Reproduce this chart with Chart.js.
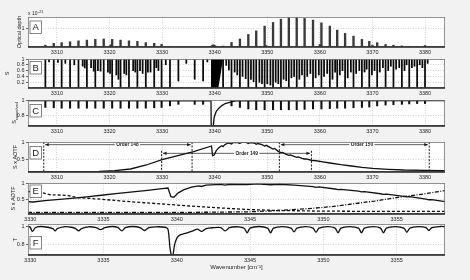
<!DOCTYPE html>
<html>
<head>
<meta charset="utf-8">
<script src="https://cdn.jsdelivr.net/npm/chart.js@4.4.0/dist/chart.umd.min.js"></script>
<style>
  html, body { margin: 0; padding: 0; background: #f2f2f2; }
  #wrap { position: relative; width: 470px; height: 280px; overflow: hidden; }
  #wrap canvas { position: absolute; left: 0; }
</style>
</head>
<body>
<div id="wrap">
  <canvas id="pA"></canvas>
  <canvas id="pB"></canvas>
  <canvas id="pC"></canvas>
  <canvas id="pD"></canvas>
  <canvas id="pE"></canvas>
  <canvas id="pF"></canvas>
</div>
<script>
// ---- data ----
const wideTicks = [3310, 3320, 3330, 3340, 3350, 3360, 3370, 3380];
const zoomTicks = [3330, 3335, 3340, 3345, 3350, 3355];

// A: optical depth per line [wavenumber, depth x1e-21]
const opticalDepthLines = [
  [3307.8, 0.1], [3309.0, 0.04], [3309.4, 0.2], [3310.9, 0.24], [3312.5, 0.29], [3314.1, 0.34],
  [3315.7, 0.38], [3317.3, 0.42], [3318.9, 0.44], [3320.2, 0.12], [3320.5, 0.42], [3322.1, 0.38],
  [3323.7, 0.34], [3325.3, 0.31], [3326.9, 0.24], [3328.5, 0.2], [3329.9, 0.15], [3331.5, 0.03],
  [3339.5, 0.08], [3339.7, 0.12], [3339.9, 0.1], [3340.1, 0.06], [3341.6, 0.05], [3343.2, 0.25],
  [3344.8, 0.44], [3346.4, 0.69], [3347.9, 0.89], [3349.5, 1.15], [3349.8, 0.08], [3351.1, 1.35],
  [3352.6, 1.53], [3354.1, 1.62], [3355.6, 1.64], [3357.1, 1.57], [3358.7, 1.48], [3360.0, 0.14],
  [3360.3, 1.33], [3361.9, 1.15], [3363.3, 0.93], [3364.8, 0.75], [3366.4, 0.6], [3368.0, 0.42],
  [3369.4, 0.31], [3370.0, 0.1], [3370.9, 0.24], [3372.5, 0.14], [3374.0, 0.1], [3375.6, 0.06],
  [3377.0, 0.03], [3378.5, 0.02], [3380.0, 0.08]
];

// B: solar lines [wavenumber, lowest value]
const solarLines = [
  [3307.8, 0], [3308.5, 0.9], [3309.4, 0], [3310.2, 0.88], [3310.9, 0], [3311.6, 0.85], [3312.5, 0],
  [3313.3, 0.8], [3314.1, 0], [3314.9, 0.75], [3315.3, 0.69], [3315.7, 0], [3316.5, 0.7], [3317.0, 0.58],
  [3317.3, 0], [3317.8, 0.6], [3318.3, 0.58], [3318.9, 0], [3319.7, 0.55], [3320.1, 0.5], [3320.5, 0],
  [3321.3, 0.45], [3321.7, 0.3], [3322.1, 0], [3322.8, 0.5], [3323.2, 0.45], [3323.7, 0], [3324.5, 0.6],
  [3324.9, 0.55], [3325.3, 0], [3325.8, 0.6], [3326.3, 0.5], [3326.9, 0], [3327.3, 0.55], [3327.8, 0.55],
  [3328.5, 0], [3328.9, 0.7], [3329.3, 0.6], [3329.9, 0], [3330.7, 0.8], [3331.5, 0], [3333.1, 0.24],
  [3334.6, 0.85], [3336.2, 0.3], [3337.8, 0.24], [3338.6, 0.9], [3341.6, 0], [3342.2, 0.78], [3342.7, 0.62],
  [3343.2, 0], [3343.8, 0.55], [3344.3, 0.45], [3344.8, 0], [3345.3, 0.4], [3345.9, 0.32], [3346.4, 0],
  [3346.9, 0.3], [3347.4, 0.22], [3347.9, 0], [3348.5, 0.2], [3349.0, 0.15], [3349.5, 0], [3350.0, 0.15],
  [3350.6, 0.1], [3351.1, 0], [3351.6, 0.2], [3352.1, 0.15], [3352.6, 0], [3353.1, 0.3], [3353.6, 0.25],
  [3354.1, 0], [3354.6, 0.35], [3355.1, 0.4], [3355.6, 0], [3356.1, 0.3], [3356.6, 0.45], [3357.1, 0],
  [3357.6, 0.4], [3358.2, 0.5], [3358.7, 0], [3359.2, 0.35], [3359.8, 0.45], [3360.3, 0], [3360.8, 0.4],
  [3361.4, 0.5], [3361.9, 0], [3362.4, 0.3], [3362.9, 0.55], [3363.3, 0], [3363.8, 0.45], [3364.3, 0.6],
  [3364.8, 0], [3365.3, 0.35], [3365.9, 0.55], [3366.4, 0], [3366.9, 0.5], [3367.5, 0.6], [3368.0, 0],
  [3368.5, 0.55], [3368.9, 0.65], [3369.4, 0], [3369.9, 0.45], [3370.4, 0.6], [3370.9, 0], [3371.4, 0.55],
  [3372.0, 0.7], [3372.5, 0], [3373.0, 0.6], [3373.5, 0.75], [3374.0, 0], [3374.5, 0.65], [3375.1, 0.7],
  [3375.6, 0], [3376.1, 0.6], [3376.5, 0.8], [3377.0, 0], [3377.5, 0.7], [3378.0, 0.75], [3378.5, 0],
  [3379.0, 0.8], [3379.5, 0.7], [3380.0, 0], [3380.5, 0.85]
];
// black band near the Q branch: top edge and lower edge
const bandTop = [[3339.3, 1], [3341.6, 1]];
const bandBottom = [[3339.3, 0], [3340.7, 0], [3341.6, 1]];

// C: convolved spectrum, smooth part and narrow dips
const convolvedBase = [
  [3304.5, 0.998], [3339.3, 0.995], [3339.35, 0.6], [3339.6, 0.6], [3339.9, 0.78], [3340.3, 0.86],
  [3340.8, 0.9], [3341.3, 0.93], [3342.0, 0.96], [3343.0, 0.98], [3344.0, 0.995], [3383.8, 0.998]
];
const convolvedDips = [
  [3307.8, 0.91], [3309.4, 0.905], [3310.9, 0.9], [3312.5, 0.9], [3314.1, 0.9], [3315.7, 0.9],
  [3317.3, 0.9], [3318.9, 0.9], [3320.5, 0.9], [3322.1, 0.9], [3323.7, 0.9], [3325.3, 0.9],
  [3326.9, 0.9], [3328.5, 0.905], [3329.9, 0.91], [3331.5, 0.93], [3333.1, 0.95], [3336.2, 0.95],
  [3337.8, 0.95], [3343.2, 0.93], [3344.8, 0.91], [3346.4, 0.89], [3347.9, 0.88], [3349.5, 0.88],
  [3351.1, 0.88], [3352.6, 0.88], [3354.1, 0.88], [3355.6, 0.88], [3357.1, 0.885], [3358.7, 0.89],
  [3360.3, 0.89], [3361.9, 0.895], [3363.3, 0.9], [3364.8, 0.9], [3366.4, 0.905], [3368.0, 0.91],
  [3369.4, 0.915], [3370.9, 0.93], [3372.5, 0.94], [3374.0, 0.945], [3375.6, 0.95], [3377.0, 0.955],
  [3378.5, 0.96], [3380.0, 0.96]
];

// D: S x AOTF over the wide range
const filteredWide = [
  [3304.5, 0.12], [3312, 0.12], [3318, 0.125], [3321, 0.15], [3324, 0.2], [3327, 0.32], [3330, 0.48],
  [3333, 0.6], [3336, 0.72], [3339.4, 0.89], [3339.6, 0.6], [3339.9, 0.62], [3340.3, 0.75], [3340.8, 0.84],
  [3341.3, 0.9], [3341.6, 0.87], [3341.9, 0.93], [3342.6, 0.98], [3343.2, 0.95], [3343.5, 0.995],
  [3344.3, 1.0], [3344.8, 0.965], [3345.1, 1.0], [3346.0, 1.0], [3346.4, 0.965], [3346.7, 0.995],
  [3347.5, 0.98], [3347.9, 0.94], [3348.2, 0.965], [3349.0, 0.93], [3349.5, 0.89], [3349.8, 0.91],
  [3350.6, 0.84], [3351.1, 0.8], [3351.4, 0.815], [3352.1, 0.73], [3352.6, 0.69], [3352.9, 0.7],
  [3353.6, 0.64], [3354.1, 0.61], [3354.4, 0.62], [3355.1, 0.58], [3355.6, 0.55], [3355.9, 0.56],
  [3356.6, 0.52], [3357.1, 0.5], [3357.4, 0.505], [3358.2, 0.47], [3358.7, 0.45], [3359.0, 0.455],
  [3360.3, 0.42], [3361.9, 0.38], [3364, 0.33], [3366, 0.29], [3368, 0.25], [3370, 0.22], [3373, 0.19],
  [3376, 0.17], [3380, 0.16], [3383.8, 0.15]
];
const orderNames = ['Order 148', 'Order 149', 'Order 150'];
const orderLo = [3307.5, 3329.9, 3352.3];
const orderHi = [3335.7, 3358.4, 3380.8];
const orderLevel = [0.93, 0.67, 0.93];
const orderLabelAt = [3323.4, 3346.1, 3368.0];

// E: three orders over the zoomed range
const order149 = [
  [3329.85, 0.44], [3330.2, 0.43], [3331, 0.47], [3332, 0.51], [3333, 0.55], [3334, 0.6], [3335, 0.65],
  [3336, 0.7], [3337, 0.75], [3338, 0.8], [3339, 0.85], [3339.4, 0.87], [3339.6, 0.6], [3339.8, 0.58],
  [3340.1, 0.72], [3340.5, 0.82], [3341, 0.9], [3341.5, 0.94], [3341.7, 0.92], [3342, 0.96], [3343, 0.985],
  [3343.3, 0.965], [3343.6, 0.99], [3344.8, 0.98], [3345.5, 1.0], [3346.4, 0.975], [3347, 0.99],
  [3348, 0.965], [3349.3, 0.915], [3349.5, 0.89], [3349.7, 0.905], [3350.8, 0.84], [3351.0, 0.82],
  [3351.2, 0.83], [3352.4, 0.77], [3352.6, 0.75], [3352.8, 0.76], [3353.9, 0.69], [3354.1, 0.67],
  [3354.3, 0.68], [3355.5, 0.61], [3355.7, 0.59], [3355.9, 0.6], [3357.0, 0.52], [3357.2, 0.5],
  [3357.4, 0.505], [3358.3, 0.44]
];
const order148 = [
  [3329.85, 0.76], [3330.8, 0.73], [3331.3, 0.66], [3332.5, 0.64], [3333.2, 0.57], [3334.8, 0.52],
  [3336.5, 0.45], [3338.9, 0.37], [3341, 0.3], [3343, 0.24], [3345, 0.19], [3347, 0.16], [3350, 0.14],
  [3355, 0.13], [3358.3, 0.13]
];
const order150 = [
  [3329.85, 0.1], [3336, 0.1], [3342, 0.105], [3345, 0.12], [3347, 0.16], [3349, 0.22], [3350.5, 0.28],
  [3352, 0.37], [3353.5, 0.46], [3355, 0.57], [3356.5, 0.66], [3358.3, 0.79]
];

// F: transmittance
const transmittance = [
  [3329.85, 0.998], [3330.0, 0.99], [3330.15, 0.945], [3330.35, 0.985], [3330.7, 0.998], [3331.2, 0.99],
  [3331.55, 0.975], [3331.7, 0.95], [3331.85, 0.975], [3332.3, 0.995], [3332.8, 0.99], [3333.1, 0.975],
  [3333.3, 0.95], [3333.5, 0.975], [3334.0, 0.995], [3334.5, 0.985], [3334.8, 0.965], [3335.1, 0.985],
  [3335.6, 0.998], [3336.0, 0.985], [3336.25, 0.95], [3336.5, 0.985], [3337.0, 0.998], [3337.5, 0.985],
  [3337.8, 0.955], [3338.1, 0.985], [3338.6, 0.995], [3339.2, 0.99], [3339.4, 0.97], [3339.55, 0.75],
  [3339.7, 0.66], [3339.85, 0.8], [3340.0, 0.87], [3340.2, 0.905], [3340.5, 0.92], [3340.8, 0.935],
  [3341.1, 0.95], [3341.4, 0.97], [3341.7, 0.945], [3342.0, 0.975], [3342.5, 0.985], [3343.0, 0.985],
  [3343.3, 0.95], [3343.6, 0.985], [3344.2, 0.995], [3344.6, 0.98], [3344.8, 0.93], [3345.0, 0.98],
  [3345.6, 0.998], [3346.2, 0.98], [3346.4, 0.93], [3346.6, 0.98], [3347.2, 0.997], [3347.8, 0.98],
  [3348.0, 0.94], [3348.2, 0.98], [3348.8, 0.997], [3349.3, 0.98], [3349.5, 0.935], [3349.7, 0.98],
  [3350.3, 0.997], [3350.8, 0.98], [3351.0, 0.93], [3351.2, 0.98], [3351.8, 0.997], [3352.4, 0.98],
  [3352.6, 0.93], [3352.8, 0.98], [3353.4, 0.997], [3353.9, 0.98], [3354.1, 0.93], [3354.3, 0.98],
  [3354.9, 0.997], [3355.5, 0.98], [3355.7, 0.935], [3355.9, 0.98], [3356.5, 0.997], [3357.0, 0.985],
  [3357.2, 0.955], [3357.4, 0.985], [3358.0, 0.998], [3358.3, 0.997]
];

// ---- drawing ----
const FONT = "'Liberation Sans', Arial, sans-serif";
Chart.defaults.font.family = FONT;
Chart.defaults.font.size = 5.5;
Chart.defaults.color = '#262626';

const pts = arr => arr.map(([x, y]) => ({ x, y }));

// white plot area, box, panel letter, y title
const decor = {
  id: 'decor',
  beforeDraw(chart) {
    const a = chart.chartArea, ctx = chart.ctx;
    ctx.save();
    ctx.fillStyle = '#fff';
    ctx.fillRect(a.left, a.top, a.right - a.left, a.bottom - a.top);
    ctx.restore();
  },
  afterDraw(chart, args, o) {
    const a = chart.chartArea, ctx = chart.ctx;
    ctx.save();
    ctx.strokeStyle = '#777';
    ctx.lineWidth = 0.8;
    ctx.strokeRect(a.left + 0.4, a.top + 0.4, a.right - a.left - 0.8, a.bottom - a.top - 0.8);
    ctx.strokeStyle = '#222';
    ctx.lineWidth = 1.6;
    ctx.beginPath();
    ctx.moveTo(a.left, a.bottom);
    ctx.lineTo(a.right, a.bottom);
    ctx.stroke();

    // panel letter box
    const bx = a.left + 2, by = a.top + o.letterTop;
    ctx.fillStyle = '#fff';
    ctx.fillRect(bx, by, 11.5, 12.5);
    ctx.strokeStyle = '#666';
    ctx.lineWidth = 0.8;
    ctx.strokeRect(bx, by, 11.5, 12.5);
    ctx.fillStyle = '#222';
    ctx.font = '9.5px ' + FONT;
    ctx.textAlign = 'center';
    ctx.textBaseline = 'middle';
    ctx.fillText(o.letter, bx + 5.75, by + 6.8);

    // y title, rotated
    ctx.save();
    ctx.translate(o.titleX, (a.top + a.bottom) / 2);
    ctx.rotate(-Math.PI / 2);
    ctx.font = '5.5px ' + FONT;
    if (o.titleSub) {
      const w1 = ctx.measureText(o.title).width;
      ctx.font = '4px ' + FONT;
      const w2 = ctx.measureText(o.titleSub).width;
      ctx.textAlign = 'left';
      ctx.font = '5.5px ' + FONT;
      ctx.fillText(o.title, -(w1 + w2) / 2, 0);
      ctx.font = '4px ' + FONT;
      ctx.fillText(o.titleSub, -(w1 + w2) / 2 + w1, 2.5);
    } else {
      ctx.textAlign = 'center';
      ctx.fillText(o.title, 0, 0);
    }
    ctx.restore();

    // exponent note above panel A
    if (o.exponent) {
      ctx.textAlign = 'left';
      ctx.textBaseline = 'alphabetic';
      ctx.font = '5px ' + FONT;
      ctx.fillText('x 10', a.left, a.top - 2);
      const w = ctx.measureText('x 10').width;
      ctx.font = '3.8px ' + FONT;
      ctx.fillText(o.exponent, a.left + w + 0.5, a.top - 4.5);
    }
    ctx.restore();
  }
};

// order arrows for panel D
const orderMarks = {
  id: 'orderMarks',
  afterDatasetsDraw(chart) {
    const xs = chart.scales.x, ys = chart.scales.y, ctx = chart.ctx, a = chart.chartArea;
    ctx.save();
    ctx.strokeStyle = '#1a1a1a';
    ctx.fillStyle = '#1a1a1a';
    orderNames.forEach((name, i) => {
      const x1 = xs.getPixelForValue(orderLo[i]);
      const x2 = xs.getPixelForValue(orderHi[i]);
      const yy = ys.getPixelForValue(orderLevel[i]);
      ctx.setLineDash([2, 1.4]);
      ctx.lineWidth = 1;
      [x1, x2].forEach(px => {
        ctx.beginPath();
        ctx.moveTo(px, yy - 2.5);
        ctx.lineTo(px, a.bottom);
        ctx.stroke();
      });
      ctx.setLineDash([]);
      ctx.lineWidth = 0.7;
      ctx.beginPath();
      ctx.moveTo(x1 + 1.5, yy);
      ctx.lineTo(x2 - 1.5, yy);
      ctx.stroke();
      // arrow heads pointing outward
      ctx.beginPath();
      ctx.moveTo(x1 + 1.2, yy);
      ctx.lineTo(x1 + 5, yy - 1.6);
      ctx.lineTo(x1 + 5, yy + 1.6);
      ctx.closePath();
      ctx.fill();
      ctx.beginPath();
      ctx.moveTo(x2 - 1.2, yy);
      ctx.lineTo(x2 - 5, yy - 1.6);
      ctx.lineTo(x2 - 5, yy + 1.6);
      ctx.closePath();
      ctx.fill();
      // label
      ctx.font = 'bold 4.8px ' + FONT;
      const tx = xs.getPixelForValue(orderLabelAt[i]);
      const w = ctx.measureText(name).width;
      ctx.fillStyle = '#fff';
      ctx.fillRect(tx - w / 2 - 1.5, yy - 2.6, w + 3, 5.2);
      ctx.fillStyle = '#1a1a1a';
      ctx.textAlign = 'center';
      ctx.textBaseline = 'middle';
      ctx.fillText(name, tx, yy + 0.2);
    });
    ctx.restore();
  }
};

function makePanel(p) {
  const cv = document.getElementById(p.id);
  const padTop = p.padTop || 6;
  cv.width = 470;
  cv.height = padTop + p.plotH + p.axisH;
  cv.style.top = (p.plotTop - padTop) + 'px';
  const gridColor = '#c2c2c2';
  return new Chart(cv, {
    type: p.type,
    data: { datasets: p.datasets },
    options: {
      responsive: false,
      animation: false,
      events: [],
      layout: { padding: { top: padTop, right: 25, bottom: 0, left: 0 } },
      plugins: { legend: { display: false }, tooltip: { enabled: false }, decor: p.decor },
      scales: {
        x: {
          type: 'linear',
          min: p.xRange[0],
          max: p.xRange[1],
          offset: false,
          afterBuildTicks: s => { s.ticks = p.xTicks.map(v => ({ value: v })); },
          afterFit: s => { s.height = p.axisH; },
          grid: { offset: false, color: gridColor, lineWidth: 0.7, drawTicks: false },
          border: { display: false, dash: [1, 1.5] },
          ticks: { padding: 2.5, maxRotation: 0, autoSkip: false, callback: v => String(v) },
          title: p.xTitle
            ? { display: true, text: p.xTitle, font: { size: 6 }, color: '#222', padding: { top: 0, bottom: 6.5 } }
            : { display: false }
        },
        y: {
          type: 'linear',
          min: p.yRange[0],
          max: p.yRange[1],
          afterBuildTicks: s => { s.ticks = p.yTicks.map(v => ({ value: v })); },
          afterFit: s => { s.width = 28; },
          grid: { color: gridColor, lineWidth: 0.7, drawTicks: true, tickLength: 2, tickColor: '#444', tickWidth: 0.8 },
          border: { display: false, dash: [1, 1.5] },
          ticks: { padding: 1.5, autoSkip: false, callback: v => String(v) }
        }
      }
    },
    plugins: p.plugins || [decor]
  });
}

const wideRange = [3304.5, 3383.8];
const zoomRange = [3329.85, 3358.3];
const lineStyle = { borderColor: '#111', borderWidth: 1.3, pointRadius: 0, fill: false, tension: 0 };

makePanel({
  id: 'pA', type: 'bar', plotTop: 17, plotH: 30, axisH: 10, padTop: 12,
  xRange: wideRange, xTicks: wideTicks, yRange: [0, 1.65], yTicks: [1],
  decor: { letter: 'A', letterTop: 4, title: 'Optical depth', titleX: 19, exponent: '-21' },
  datasets: [{ data: pts(opticalDepthLines), backgroundColor: '#3a3a3a', barThickness: 1.7 }]
});

makePanel({
  id: 'pB', type: 'bar', plotTop: 59, plotH: 29, axisH: 10,
  xRange: wideRange, xTicks: wideTicks, yRange: [0, 1], yTicks: [0.2, 0.4, 0.6, 0.8, 1],
  decor: { letter: 'B', letterTop: 2.5, title: 'S', titleX: 7 },
  datasets: [
    { data: solarLines.map(([x, lo]) => ({ x, y: [lo, 1] })), backgroundColor: '#0a0a0a', barThickness: 1.1 },
    { type: 'line', data: pts(bandTop), borderWidth: 0, pointRadius: 0, backgroundColor: '#000', fill: '+1' },
    { type: 'line', data: pts(bandBottom), borderWidth: 0, pointRadius: 0, fill: false }
  ]
});

makePanel({
  id: 'pC', type: 'bar', plotTop: 100, plotH: 26, axisH: 10,
  xRange: wideRange, xTicks: wideTicks, yRange: [0.67, 1.006], yTicks: [0.8, 1],
  decor: { letter: 'C', letterTop: 4.5, title: 'S', titleSub: 'convolved', titleX: 14 },
  datasets: [
    Object.assign({ type: 'line', data: pts(convolvedBase) }, lineStyle),
    { data: convolvedDips.map(([x, d]) => ({ x, y: [d, 0.998] })), backgroundColor: '#111', barThickness: 1.4 }
  ]
});

makePanel({
  id: 'pD', type: 'line', plotTop: 142, plotH: 30, axisH: 10,
  xRange: wideRange, xTicks: wideTicks, yRange: [0.11, 1.01], yTicks: [0.5, 1],
  decor: { letter: 'D', letterTop: 4.5, title: 'S x AOTF', titleX: 15 },
  datasets: [Object.assign({ data: pts(filteredWide) }, lineStyle)],
  plugins: [decor, orderMarks]
});

makePanel({
  id: 'pE', type: 'line', plotTop: 183, plotH: 31, axisH: 10,
  xRange: zoomRange, xTicks: zoomTicks, yRange: [0.05, 1.03], yTicks: [0.5, 1],
  decor: { letter: 'E', letterTop: 2, title: 'S x AOTF', titleX: 13.5 },
  datasets: [
    Object.assign({ data: pts(order149) }, lineStyle),
    Object.assign({ data: pts(order148), borderDash: [3, 2] }, lineStyle),
    Object.assign({ data: pts(order150), borderDash: [4, 1.5, 1, 1.5] }, lineStyle)
  ]
});

makePanel({
  id: 'pF', type: 'line', plotTop: 224, plotH: 31, axisH: 22,
  xRange: zoomRange, xTicks: zoomTicks, yRange: [0.69, 1.025], yTicks: [0.8, 1],
  xTitle: 'Wavenumber [cm⁻¹]',
  decor: { letter: 'F', letterTop: 12.5, title: 'T', titleX: 15 },
  datasets: [Object.assign({ data: pts(transmittance) }, lineStyle, { tension: 0.3 })]
});
</script>
</body>
</html>
